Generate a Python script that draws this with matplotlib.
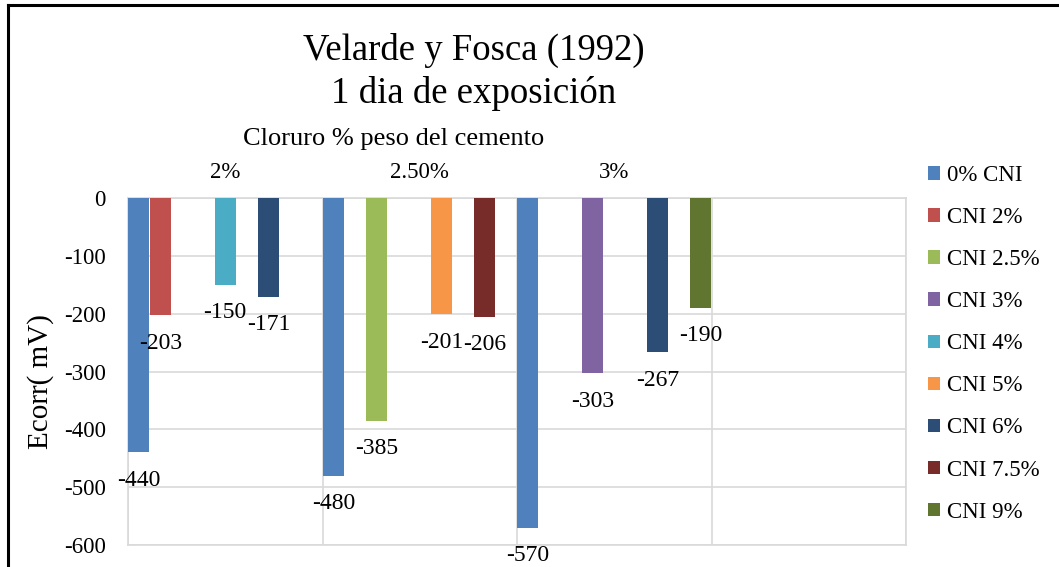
import numpy as np
import matplotlib
matplotlib.use("Agg")
import matplotlib.pyplot as plt
from matplotlib.lines import Line2D

plt.rcParams['font.family'] = ['Liberation Serif', 'DejaVu Serif']

# ---------------- data ----------------
categories = ['2%', '2.50%', '3%', '']
series_names = ['0% CNI', 'CNI 2%', 'CNI 2.5%', 'CNI 3%', 'CNI 4%',
                'CNI 5%', 'CNI 6%', 'CNI 7.5%', 'CNI 9%']
nan = np.nan
v_0 = [-440, -480, -570, nan]
v_2 = [-203, nan, nan, nan]
v_25 = [nan, -385, nan, nan]
v_3 = [nan, nan, -303, nan]
v_4 = [-150, nan, nan, nan]
v_5 = [nan, -201, nan, nan]
v_6 = [-171, nan, -267, nan]
v_75 = [nan, -206, nan, nan]
v_9 = [nan, nan, -190, nan]
series_values = [v_0, v_2, v_25, v_3, v_4, v_5, v_6, v_75, v_9]
colors = ['#4F81BD', '#C0504D', '#9BBB59', '#8064A2', '#4BACC6',
          '#F79646', '#2C4D75', '#772C2A', '#5F7530']
yticks = np.arange(-600, 1, 100)

# ---------------- figure ----------------
W, H = 1059, 567
fig = plt.figure(figsize=(W / 100, H / 100), dpi=100)
ax = fig.add_axes([128 / W, 22 / H, 778 / W, 347 / H])

n_cat = len(categories)
n_ser = len(series_names)
width = 1.0 / n_ser
cat_x = np.arange(n_cat)

for j, (name, vals, c) in enumerate(zip(series_names, series_values, colors)):
    vals = np.asarray(vals, dtype=float)
    xs = cat_x + (j + 0.5) * width
    ax.bar(xs, vals, width=width * 0.98, color=c, label=name, zorder=3)
    for x, v in zip(xs, vals):
        if np.isnan(v):
            continue
        ax.annotate(f"{int(v)}", xy=(x, v), xytext=(0, -20),
                    textcoords='offset points', ha='center', va='center',
                    fontsize=17, color='black', zorder=5)

ax.set_xlim(0, n_cat)
ax.set_ylim(-600, 0)
ax.set_yticks(yticks)
ax.set_yticklabels([str(t) for t in yticks])
ax.tick_params(axis='y', length=0, pad=16, labelsize=16.5)

ax.xaxis.tick_top()
ax.set_xticks(cat_x + 0.5)
ax.set_xticklabels(categories)
ax.tick_params(axis='x', which='major', length=0, pad=11, labelsize=16.5)
ax.set_xticks(np.arange(n_cat + 1), minor=True)
ax.tick_params(axis='x', which='minor', length=0)

grid_c = '#D9D9D9'
ax.grid(axis='y', which='major', color=grid_c, linewidth=1.2, zorder=0)
ax.grid(axis='x', which='minor', color=grid_c, linewidth=1.2, zorder=0)
ax.grid(axis='x', which='major', visible=False)
for s in ax.spines.values():
    s.set_color(grid_c)
    s.set_linewidth(1.2)
ax.set_axisbelow(True)

ax.set_ylabel('Ecorr( mV)', fontsize=21)
ax.yaxis.label.set_ha('center')
ax.yaxis.label.set_va('center')
ax.yaxis.set_label_coords(-0.113, 0.47)

# axis title on top
fig.text(394 / W, 1 - 145 / H, 'Cloruro % peso del cemento', ha='center',
         va='baseline', fontsize=19)

# chart title
fig.text(474 / W, 1 - 60 / H, 'Velarde y Fosca (1992)', ha='center',
         va='baseline', fontsize=26.5)
fig.text(474 / W, 1 - 103 / H, '1 dia de exposición', ha='center',
         va='baseline', fontsize=26.5)

# legend
leg = fig.legend(loc='upper left', bbox_to_anchor=(928 / W, 1 - 165 / H),
                 frameon=False, fontsize=16.5, handlelength=0.52,
                 handleheight=0.52, handletextpad=0.3, labelspacing=0.92,
                 borderpad=0, borderaxespad=0)

# outer border (left and top edges visible)
fig.add_artist(Line2D([7.5 / W, 7.5 / W], [0, 1 - 5 / H], color='black',
                      linewidth=2.2, transform=fig.transFigure))
fig.add_artist(Line2D([7.5 / W, 1], [1 - 5 / H, 1 - 5 / H], color='black',
                      linewidth=2.2, transform=fig.transFigure))

fig.savefig('out.png', dpi=100)
